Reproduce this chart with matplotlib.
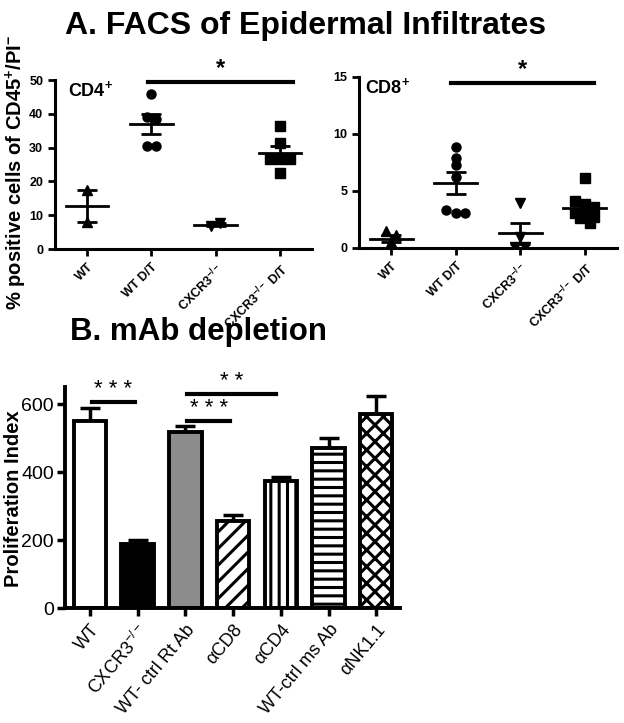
import numpy as np
import matplotlib.pyplot as plt

plt.rcParams['font.family'] = ['Liberation Sans', 'DejaVu Sans']
plt.rcParams['mathtext.fontset'] = 'custom'
plt.rcParams['mathtext.rm'] = 'Liberation Sans'
plt.rcParams['mathtext.bf'] = 'Liberation Sans:bold'
plt.rcParams['hatch.linewidth'] = 2.2

# ---- data: panel A (FACS, % positive of CD45+/PI-) ----
groups_a = ['WT', 'WT D/T', r'CXCR3$^{\mathbf{-/-}}$', r'CXCR3$^{\mathbf{-/-}}$ D/T']
markers_a = ['^', 'o', 'v', 's']

cd4_wt = [17.5, 8.0]
cd4_wt_dt = [46.0, 39.0, 38.5, 30.5, 30.5]
cd4_cxcr3 = [6.8, 7.6]
cd4_cxcr3_dt = [36.5, 31.5, 26.5, 26.5, 26.5, 22.5]

cd8_wt = [1.45, 1.15, 0.55, 0.15]
cd8_wt_dt = [8.9, 7.9, 7.3, 6.2, 3.3, 3.1, 3.1]
cd8_cxcr3 = [3.95, 1.0, 0.1, 0.1]
cd8_cxcr3_dt = [6.1, 4.1, 3.9, 3.6, 3.1, 2.9, 2.7, 2.6, 2.2]

# ---- data: panel B (mAb depletion) ----
groups_b = ['WT', r'CXCR3$^{-/-}$', 'WT- ctrl Rt Ab', 'αCD8', 'αCD4',
            'WT-ctrl ms Ab', 'αNK1.1']
prolif = [551, 187, 517, 256, 374, 471, 570]
prolif_sem = [36, 13, 19, 17, 12, 28, 54]
fills = ['white', 'black', '#8c8c8c', 'white', 'white', 'white', 'white']
hatches = [None, None, None, '//', '||', '--', 'xx']
# (from group, to group, height, stars)
sig_b = [(0, 1, 606, '* * *'), (2, 3, 550, '* * *'), (2, 4, 629, '* *')]


def swarm(vals, binw, dx):
    vals = np.asarray(vals)
    bins = np.round(vals / binw)
    offs = np.zeros(len(vals))
    for b in np.unique(bins):
        idx = np.where(bins == b)[0]
        offs[idx] = (np.arange(len(idx)) - (len(idx) - 1) / 2) * dx
    return offs


def dot_panel(ax, data, ymax, yticks, binw, label, lx, sig):
    for i, vals in enumerate(data):
        x = i + swarm(vals, binw, 0.15)
        ax.plot(x, vals, markers_a[i], color='black', ms=6.5, zorder=3)
        m = np.mean(vals)
        sem = np.std(vals, ddof=1) / np.sqrt(len(vals))
        ax.plot([i - 0.33, i + 0.33], [m, m], color='black', lw=2, zorder=4)
        ax.errorbar(i, m, yerr=sem, color='black', lw=2, capsize=7,
                    capthick=2, zorder=4)
    ax.set_xlim(-0.5, 3.5)
    ax.set_ylim(0, ymax)
    ax.set_yticks(yticks)
    ax.set_xticks(range(4))
    ax.set_xticklabels(groups_a, rotation=45, ha='right',
                       rotation_mode='anchor', fontsize=9.5, fontweight='bold')
    for t in ax.get_yticklabels():
        t.set_fontweight('bold')
    ax.tick_params(direction='out', length=5, width=2, labelsize=9)
    for s in ['top', 'right']:
        ax.spines[s].set_visible(False)
    for s in ['left', 'bottom']:
        ax.spines[s].set_linewidth(2.2)
    ax.text(lx, 1.0, label, transform=ax.transAxes, fontsize=13,
            fontweight='bold', va='top', ha='left')
    x0, x1, y = sig
    ax.plot([x0, x1], [y, y], color='black', lw=3, clip_on=False)
    ax.text((x0 + x1) / 2, y * 1.01, '*', ha='center', va='bottom',
            fontsize=17, fontweight='bold')


fig = plt.figure(figsize=(6.24, 7.23), dpi=100)

ax1 = fig.add_axes([0.0881, 0.6556, 0.412, 0.2337])
dot_panel(ax1, [cd4_wt, cd4_wt_dt, cd4_cxcr3, cd4_cxcr3_dt], 50,
          [0, 10, 20, 30, 40, 50], 2.6, 'CD4$^{\\mathbf{+}}$', 0.05,
          (0.95, 3.2, 49.4))

ax2 = fig.add_axes([0.5753, 0.657, 0.4135, 0.2365])
dot_panel(ax2, [cd8_wt, cd8_wt_dt, cd8_cxcr3, cd8_cxcr3_dt], 15,
          [0, 5, 10, 15], 0.75, 'CD8$^{\\mathbf{+}}$', 0.025,
          (0.93, 3.15, 14.5))

fig.text(0.026, 0.762, '% positive cells of CD45$^{\\mathbf{+}}$/PI$^{\\mathbf{-}}$',
         rotation=90, ha='center', va='center', fontsize=14.5, fontweight='bold')
fig.text(0.49, 0.953, 'A. FACS of Epidermal Infiltrates', ha='center',
         va='baseline', fontsize=23, fontweight='bold')
fig.text(0.112, 0.5297, 'B. mAb depletion', ha='left', va='baseline',
         fontsize=22.5, fontweight='bold')

# ---- panel B ----
ax3 = fig.add_axes([0.1042, 0.159, 0.537, 0.3057])
xb = np.arange(len(prolif))
ax3.errorbar(xb, prolif, yerr=[np.zeros(len(prolif)), prolif_sem], fmt='none',
             ecolor='black', elinewidth=2.5, capsize=7, capthick=2.5, zorder=1)
for i in range(len(prolif)):
    ax3.bar(xb[i], prolif[i], width=0.68, color=fills[i], edgecolor='black',
            linewidth=2.8, hatch=hatches[i], zorder=2)
ax3.set_xlim(-0.52, 6.5)
ax3.set_ylim(0, 650)
ax3.set_yticks([0, 200, 400, 600])
ax3.set_xticks(xb)
ax3.set_xticklabels(groups_b, rotation=50, ha='right', rotation_mode='anchor',
                    fontsize=13)
ax3.tick_params(axis='x', direction='out', length=6, width=2.5, labelsize=13)
ax3.tick_params(axis='y', direction='out', length=6, width=2.5, labelsize=14,
                pad=2)
for s in ['top', 'right']:
    ax3.spines[s].set_visible(False)
for s in ['left', 'bottom']:
    ax3.spines[s].set_linewidth(2.8)
fig.text(0.022, 0.31, 'Proliferation Index', rotation=90, ha='center',
         va='center', fontsize=14.5, fontweight='bold')
for a, b, y, txt in sig_b:
    xa = a + 0.04
    xe = b - 0.06 if b - a == 1 else b - 0.1
    ax3.plot([xa, xe], [y, y], color='black', lw=3, clip_on=False)
    ax3.text((xa + xe) / 2, y + 6, txt, ha='center', va='bottom', fontsize=16)

fig.savefig('out.png', dpi=100)
